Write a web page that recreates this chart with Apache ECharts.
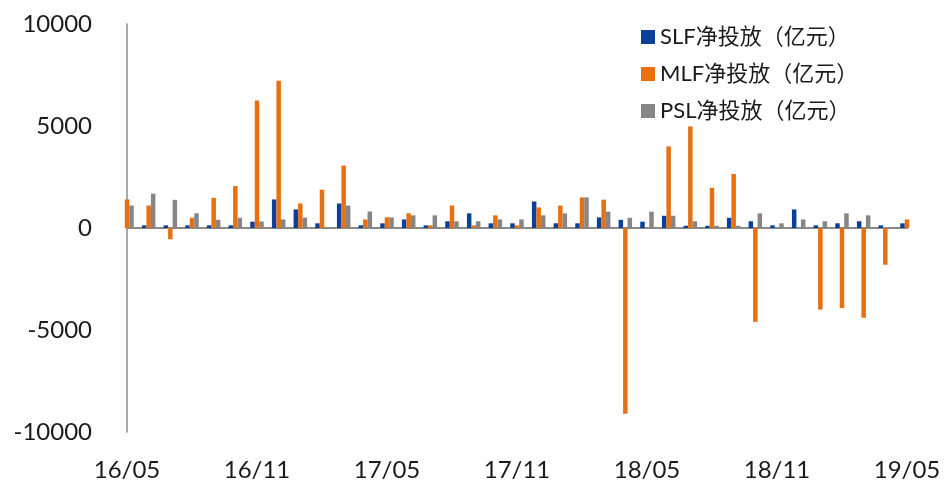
<!DOCTYPE html>
<html>
<head>
<meta charset="utf-8">
<script src="https://cdn.jsdelivr.net/npm/echarts@6/dist/echarts.min.js"></script>
<style>
html,body{margin:0;padding:0;background:#fff;}
#chart{width:949px;height:486px;}
</style>
</head>
<body>
<div id="chart"></div>
<script>
var categories = ["16/05","16/06","16/07","16/08","16/09","16/10","16/11","16/12","17/01","17/02","17/03","17/04","17/05","17/06","17/07","17/08","17/09","17/10","17/11","17/12","18/01","18/02","18/03","18/04","18/05","18/06","18/07","18/08","18/09","18/10","18/11","18/12","19/01","19/02","19/03","19/04","19/05"];
var slfValues = [null,130,130,130,130,130,310,1400,910,230,1200,130,230,420,130,330,720,230,230,1300,230,230,520,400,310,600,110,110,500,330,130,910,130,230,330,130,230];
var mlfValues = [1400,1100,-550,500,1480,2060,6250,7220,1200,1880,3060,420,520,720,130,1100,130,620,130,1010,1100,1500,1390,-9100,0,4000,4980,1970,2650,-4600,0,0,-4000,-3920,-4400,-1800,420];
var pslValues = [1100,1680,1380,720,400,500,320,420,510,0,1100,810,520,620,620,330,330,420,420,620,720,1500,800,500,800,600,330,110,110,720,230,420,330,720,620,0,null];
var seriesNames = ["SLF净投放（亿元）","MLF净投放（亿元）","PSL净投放（亿元）"];
var yTicks = {min:-10000, max:10000, interval:5000};

var colors = ["#0b3f98","#e8700f","#868686"];
var font = "Lato, 'Noto Sans CJK SC', sans-serif";
var chart = echarts.init(document.getElementById('chart'), null, {renderer:'canvas'});
var vals = [slfValues, mlfValues, pslValues];
var series = seriesNames.map(function(n,i){
  return {name:n, type:'bar', data:vals[i], xAxisIndex:0, barWidth:4.5, barGap:'0%',
    itemStyle:{color:colors[i]}, clip:true, animation:false};
});
chart.setOption({
  animation:false,
  color:colors,
  grid:{left:127, right:42, top:24, bottom:54, containLabel:false},
  legend:{orient:'vertical', left:636, top:21, itemWidth:14, itemHeight:14, itemGap:15,
    icon:'rect', data:seriesNames,
    textStyle:{fontFamily:font, fontSize:22, color:'#1a1a1a'}},
  xAxis:[{type:'category', data:categories, boundaryGap:false, position:'bottom',
      axisLine:{show:false, onZero:false}, axisTick:{show:false},
      axisLabel:{interval:5, margin:26, fontFamily:font, fontSize:24, color:'#1a1a1a'},
      splitLine:{show:false}},
    {type:'category', data:categories, boundaryGap:false, position:'top',
      axisLine:{show:true, onZero:true, lineStyle:{color:'#8a8a8a', width:2}},
      axisTick:{show:false}, axisLabel:{show:false}, splitLine:{show:false}}],
  yAxis:{type:'value', min:yTicks.min, max:yTicks.max, interval:yTicks.interval,
    axisLine:{show:true, lineStyle:{color:'#8c8c8c', width:1.5}},
    axisTick:{show:false}, splitLine:{show:false},
    axisLabel:{margin:35, fontFamily:font, fontSize:24, color:'#1a1a1a',
      formatter:function(v){return String(v);}}},
  series:series
});
</script>
</body>
</html>
